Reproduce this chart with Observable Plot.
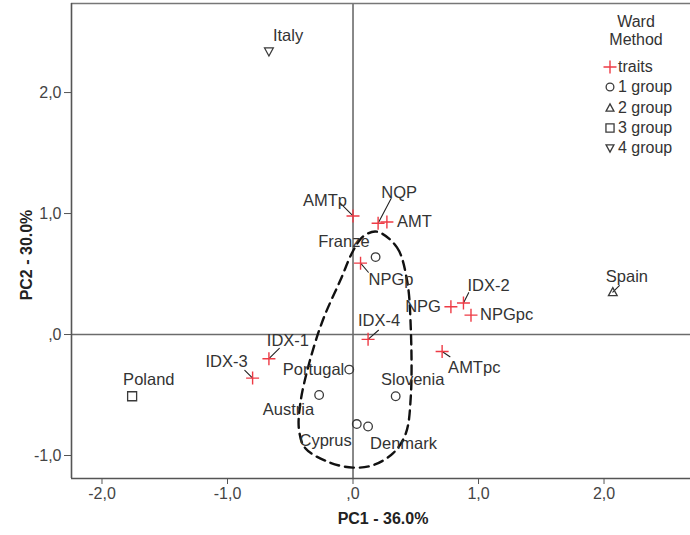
<!DOCTYPE html>
<html><head><meta charset="utf-8">
<script src="https://cdn.jsdelivr.net/npm/d3@7"></script>
<script src="https://cdn.jsdelivr.net/npm/@observablehq/plot@0.6"></script>
<style>
body{margin:0;background:#fff;font-family:"Liberation Sans",Arial,sans-serif}
#wrap{position:relative;width:690px;height:535px;overflow:hidden}
.lg{position:absolute;font-size:16px;color:#333;white-space:nowrap;line-height:1}
</style></head><body><div id="wrap"></div>
<script>
// ---- data ----
const xTicks = [-2, -1, 0, 1, 2];
const xTickLabels = ["-2,0", "-1,0", ",0", "1,0", "2,0"];
const yTicks = [-1, 0, 1, 2];
const yTickLabels = ["-1,0", ",0", "1,0", "2,0"];
const xTitle = "PC1 - 36.0%";
const yTitle = "PC2 - 30.0%";

const traitNames = ["AMTp", "NQP", "AMT", "NPGp", "NPG", "IDX-2", "NPGpc", "IDX-4", "AMTpc", "IDX-1", "IDX-3"];
const traitPC1 = [0.00, 0.20, 0.27, 0.06, 0.78, 0.88, 0.94, 0.12, 0.71, -0.67, -0.80];
const traitPC2 = [0.98, 0.92, 0.93, 0.59, 0.23, 0.26, 0.16, -0.04, -0.14, -0.20, -0.36];

const countryNames = ["Franze", "Portugal", "Austria", "Slovenia", "Cyprus", "Denmark", "Poland", "Spain", "Italy"];
const countryGroup = ["1 group", "1 group", "1 group", "1 group", "1 group", "1 group", "3 group", "2 group", "4 group"];
const countryPC1 = [0.18, -0.03, -0.27, 0.34, 0.03, 0.12, -1.76, 2.07, -0.67];
const countryPC2 = [0.64, -0.29, -0.50, -0.51, -0.74, -0.76, -0.51, 0.35, 2.34];

const outlinePC1 = [0.19, 0.35, 0.43, 0.46, 0.46, 0.42, 0.32, 0.16, 0.00, -0.18, -0.38, -0.43, -0.42, -0.35, -0.24, -0.10, 0.00, 0.08];
const outlinePC2 = [0.85, 0.72, 0.45, 0.06, -0.52, -0.82, -0.98, -1.08, -1.10, -1.06, -0.94, -0.79, -0.57, -0.24, 0.12, 0.45, 0.69, 0.81];

const legendTitle = ["Ward", "Method"];
const legendLabels = ["traits", "1 group", "2 group", "3 group", "4 group"];

// ---- layout (label placement, pixels) ----
const labelLayout = {
  "AMTp": ["end", -6, -15], "NQP": ["middle", 21, -30], "AMT": ["start", 10, 0],
  "NPGp": ["start", 8, 17], "NPG": ["end", -10, 0], "IDX-2": ["start", 4, -17],
  "NPGpc": ["start", 9, 0], "IDX-4": ["middle", 11, -19], "AMTpc": ["start", 6, 16],
  "IDX-1": ["middle", 19, -18], "IDX-3": ["end", -5, -16], "Franze": ["end", -6, -15],
  "Portugal": ["end", -5, 0], "Austria": ["end", -5, 15], "Slovenia": ["middle", 17, -17],
  "Cyprus": ["end", -5, 17], "Denmark": ["start", 2, 17], "Poland": ["start", -9, -17],
  "Spain": ["start", -7, -15], "Italy": ["start", 4, -16]
};
const leaderLayout = {
  "AMTp": [-10, -10], "NQP": [10, -19], "NPGp": [6, 7], "IDX-2": [4, -8],
  "IDX-4": [8, -7], "AMTpc": [6, 4], "IDX-1": [8, -8], "IDX-3": [-6, -6], "Spain": [5, -5]
};

// ---- symbols ----
const R = s => Math.sqrt(s / Math.PI);
const symbols = {
  "traits": {draw(c, s) { const r = R(s); c.moveTo(-r, 0); c.lineTo(r, 0); c.moveTo(0, -r); c.lineTo(0, r); }},
  "1 group": {draw(c, s) { const r = R(s); c.moveTo(r, 0); c.arc(0, 0, r, 0, 2 * Math.PI); }},
  "2 group": {draw(c, s) { const r = R(s); c.moveTo(0, -r); c.lineTo(r * 0.95, r * 0.75); c.lineTo(-r * 0.95, r * 0.75); c.closePath(); }},
  "3 group": {draw(c, s) { const r = R(s) * 0.9; c.rect(-r, -r, 2 * r, 2 * r); }},
  "4 group": {draw(c, s) { const r = R(s); c.moveTo(0, r); c.lineTo(r * 0.95, -r * 0.75); c.lineTo(-r * 0.95, -r * 0.75); c.closePath(); }}
};
const symbolSize = {"traits": 6.5, "1 group": 4.3, "2 group": 4.6, "3 group": 5, "4 group": 4.6};
const red = "#ee3b45", ink = "#333";

// ---- tables ----
const points = [
  ...traitNames.map((n, i) => ({name: n, group: "traits", x: traitPC1[i], y: traitPC2[i]})),
  ...countryNames.map((n, i) => ({name: n, group: countryGroup[i], x: countryPC1[i], y: countryPC2[i]}))
];
const outline = outlinePC1.map((x, i) => ({x, y: outlinePC2[i]}));
const leaders = points.filter(p => leaderLayout[p.name]).map(p => {
  const [ex, ey] = leaderLayout[p.name];
  return {...p, len: Math.hypot(ex, ey), rot: Math.atan2(ex, -ey) * 180 / Math.PI};
});

const xDomain = [-2.243, 2.689];
const yDomain = [-1.19, 2.736];

const perLabel = points.map(p => {
  const [a, dx, dy] = labelLayout[p.name];
  return Plot.text([p], {x: "x", y: "y", text: "name", textAnchor: a, dx, dy, fill: ink, fontSize: 16.5});
});

const chart = Plot.plot({
  width: 690, height: 535,
  marginLeft: 71, marginRight: 0, marginTop: 3, marginBottom: 57,
  style: {fontFamily: "'Liberation Sans', Arial, sans-serif", background: "#fff"},
  x: {domain: xDomain, label: null},
  y: {domain: yDomain, label: null},
  marks: [
    Plot.ruleX([0], {stroke: "#6b6b6b", strokeWidth: 1.6}),
    Plot.ruleY([0], {stroke: "#6b6b6b", strokeWidth: 1.6}),
    Plot.line(outline, {x: "x", y: "y", curve: "catmull-rom-closed", stroke: "#111", strokeWidth: 2.4, strokeDasharray: "9,6"}),
    Plot.vector(leaders, {x: "x", y: "y", length: "len", rotate: "rot", anchor: "start", r: 0, stroke: "#222", strokeWidth: 1.1}),
    ...legendLabels.map(g => Plot.dot(points.filter(p => p.group === g), {
      x: "x", y: "y", symbol: symbols[g], r: symbolSize[g],
      stroke: g === "traits" ? red : "#3a3a3a", strokeWidth: g === "traits" ? 1.4 : 1.3, fill: "none"
    })),
    ...perLabel,
    Plot.axisX({ticks: xTicks, tickFormat: d => xTickLabels[xTicks.indexOf(d)], tickSize: 6, tickPadding: 3, fontSize: 16, color: "#444", stroke: "#555", label: null}),
    Plot.axisY({ticks: yTicks, tickFormat: d => yTickLabels[yTicks.indexOf(d)], tickSize: 7, tickPadding: 3, fontSize: 16, color: "#444", stroke: "#555", label: null}),
    Plot.ruleY([yDomain[0]], {stroke: "#555", strokeWidth: 1.6}),
    Plot.ruleY([yDomain[1]], {stroke: "#777", strokeWidth: 1.6}),
    Plot.ruleX([xDomain[0]], {stroke: "#555", strokeWidth: 1.6}),
    Plot.text([xTitle], {frameAnchor: "bottom", dy: 45, dx: 2, text: d => d, fontWeight: "bold", fontSize: 16, fill: "#222"}),
    Plot.text([yTitle], {frameAnchor: "left", textAnchor: "middle", dx: -45, dy: 14, text: d => d, rotate: -90, fontWeight: "bold", fontSize: 16, fill: "#222"})
  ]
});
const wrap = document.getElementById("wrap");
wrap.appendChild(chart);

// ---- legend ----
function addDiv(text, left, top, align) {
  const d = document.createElement("div");
  d.className = "lg"; d.textContent = text;
  d.style.left = left + "px"; d.style.top = top + "px";
  if (align) { d.style.transform = "translateX(-50%)"; }
  wrap.appendChild(d); return d;
}
legendTitle.forEach((t, i) => addDiv(t, 636, 14 + i * 18, true));
legendLabels.forEach((g, i) => {
  const cy = 67 + i * 20.3;
  addDiv(g, 618, cy - 8);
  const svg = d3.select(wrap).append("svg").attr("width", 18).attr("height", 18)
    .style("position", "absolute").style("left", (610 - 9) + "px").style("top", (cy - 9) + "px");
  const r = symbolSize[g] * (g === "traits" ? 1 : 0.9);
  const p = d3.path(); symbols[g].draw(p, Math.PI * r * r);
  svg.append("path").attr("transform", "translate(9,9)").attr("d", p.toString())
    .attr("fill", "none").attr("stroke", g === "traits" ? red : "#3a3a3a").attr("stroke-width", g === "traits" ? 1.4 : 1.3);
});
</script></body></html>
